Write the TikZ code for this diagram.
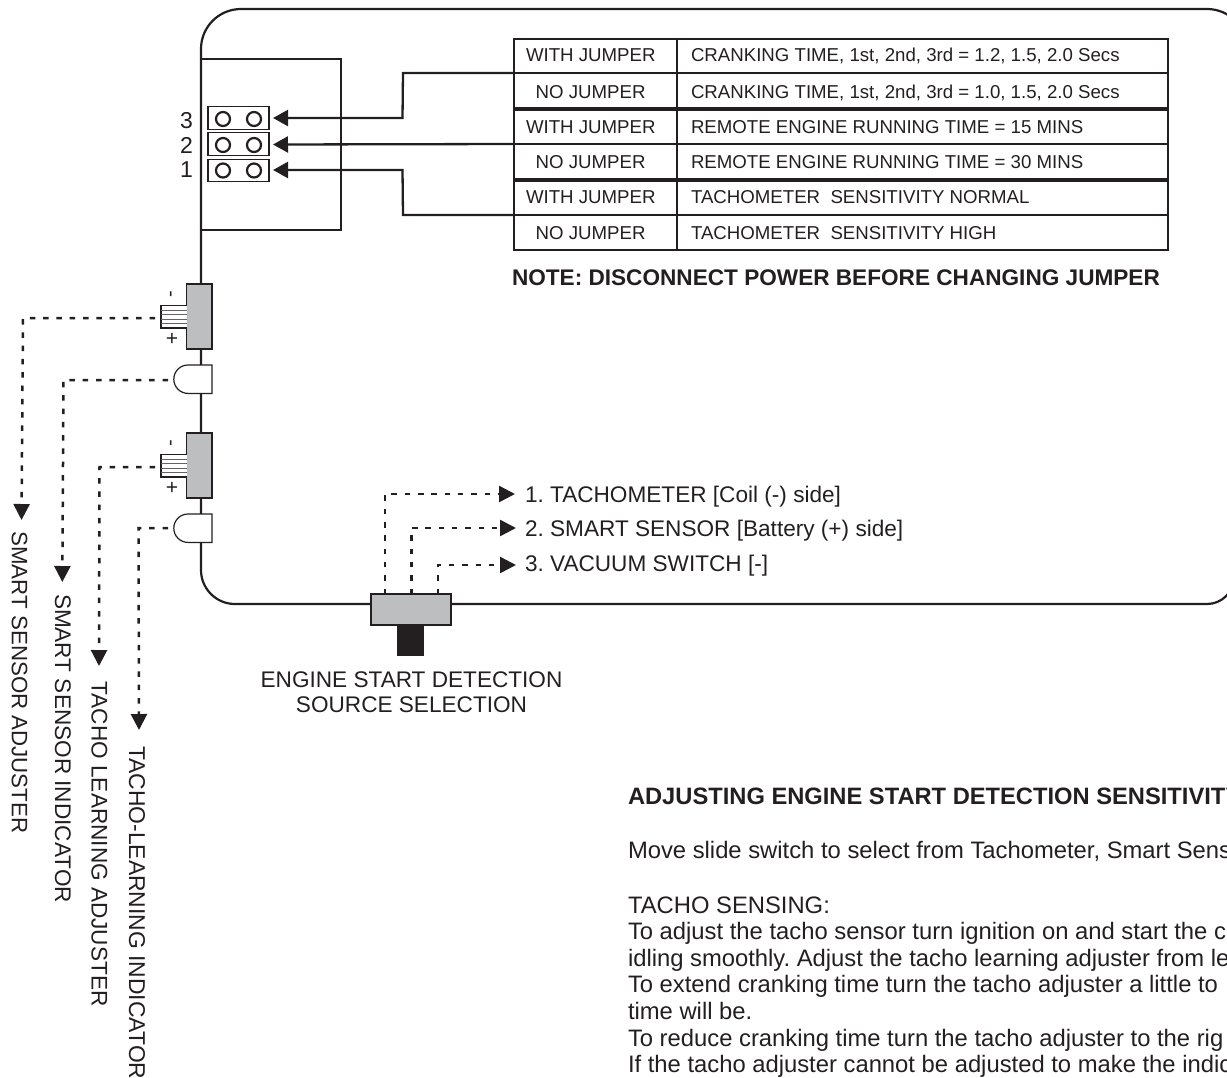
\documentclass[tikz,border=0pt]{standalone}
\usepackage{fontspec}
\setmainfont{Liberation Sans}
\definecolor{ink}{HTML}{231F20}
\definecolor{boxgray}{HTML}{BCBEC0}
\usetikzlibrary{arrows.meta}
\frenchspacing
\tikzset{
  x=1pt,y=-1pt,
  every node/.style={text=ink,inner sep=0pt,outer sep=0pt},
  shell/.style={draw=ink,line width=2.2pt},
  thin line/.style={draw=ink,line width=1.2pt},
  lead/.style={draw=ink,line width=2.3pt,-{Triangle[length=15pt,width=16pt]}},
  dotted lead/.style={draw=ink,line width=2.5pt,dash pattern=on 5.5pt off 7.8pt,-{Triangle[length=16pt,width=16pt]}},
  lbl/.style={font=\fontsize{22.6}{25}\selectfont,anchor=base west},
  tbl/.style={font=\fontsize{18.65}{20}\selectfont,anchor=base west},
  vert/.style={font=\fontsize{22.6}{24}\selectfont,rotate=-90,anchor=base west},
  body/.style={font=\fontsize{23.8}{26}\selectfont,anchor=base west},
  gray box/.style={draw=ink,line width=1.2pt,fill=boxgray},
  pinbox/.style={draw=ink,line width=1.3pt,fill=white,minimum width=61pt,minimum height=22.5pt},
  pin/.style={draw=ink,line width=2.2pt,fill=white,circle,minimum size=14pt},
  rule/.style={line width=2.4pt,draw=ink},
  thick rule/.style={line width=4.2pt,draw=ink},
}
\begin{document}
\begin{tikzpicture}
\useasboundingbox (0,0) rectangle (1227,1077);
\clip (0,0) rectangle (1227,1077);
% outer shell
\draw[shell] (1247,49) arc[start angle=0,end angle=-90,radius=40] -- (241,9) arc[start angle=270,end angle=180,radius=40] -- (201,570) arc[start angle=180,end angle=90,radius=34] -- (1207,604) arc[start angle=90,end angle=0,radius=27];
% jumper block
\draw[thin line] (201,59) -- (341,59) -- (341,230) -- (201,230);
\node[pinbox] (j3) at (238.5,118) {};
\node[pinbox] (j2) at (238.5,144) {};
\node[pinbox] (j1) at (238.5,170.5) {};
\foreach \n/\y/\b in {3/119/128.5,2/145/153,1/170.5/177.5}{
  \node[pin] (p\n a) at (223,\y) {};
  \node[pin] (p\n b) at (254,\y) {};
  \node[font=\fontsize{23}{25}\selectfont,anchor=base east] (num\n) at (193,\b) {\n};
}
% table
\draw[rule] (514,39) rectangle (1168,250);
\draw[rule] (677,39) -- (677,250);
\draw[rule] (514,73) -- (1168,73);
\draw[thick rule] (514,109) -- (1168,109);
\draw[rule] (514,144) -- (1168,144);
\draw[thick rule] (514,180) -- (1168,180);
\draw[rule] (514,215) -- (1168,215);
\foreach \y/\x/\a/\b in {
  61.7/526/WITH JUMPER/{CRANKING TIME, 1st, 2nd, 3rd = 1.2, 1.5, 2.0 Secs},
  98/535.7/NO JUMPER/{CRANKING TIME, 1st, 2nd, 3rd = 1.0, 1.5, 2.0 Secs},
  133/526/WITH JUMPER/{REMOTE ENGINE RUNNING TIME = 15 MINS},
  168.7/535.7/NO JUMPER/{REMOTE ENGINE RUNNING TIME = 30 MINS},
  203.7/526/WITH JUMPER/{TACHOMETER\ \ SENSITIVITY NORMAL},
  239.3/535.7/NO JUMPER/{TACHOMETER\ \ SENSITIVITY HIGH}}{
  \node[tbl] at (\x,\y) {\a};
  \node[tbl] at (691,\y) {\b};
}
\node[font=\bfseries\fontsize{22.6}{25}\selectfont,anchor=base west] (note) at (512,285) {NOTE: DISCONNECT POWER BEFORE CHANGING JUMPER};
% jumper leads
\coordinate (t1) at (514,73);
\coordinate (t2) at (514,144);
\coordinate (t3) at (514,215);
\coordinate (e3) at (273,118);
\coordinate (e2) at (273,144.5);
\coordinate (e1) at (273,170);
\draw[lead] (t1) -- (403,73) -- (402.5,118) -- (e3);
\draw[lead] (t2) -- (e2);
\draw[lead] (t3) -- (403,215) -- (402.5,170) -- (e1);
% adjusters
\foreach \t/\nm in {284/a,433/b}{
  \draw[gray box] (186.5,\t) rectangle (212,\t+65);
  \draw[line width=1.2pt,draw=ink,fill=white] (186.5,\t+21.5) -- (161,\t+21.5) -- (161,\t+44) -- (186.5,\t+44);
  \foreach \d in {26,30.5,35,39.5} \draw[line width=0.8pt,draw=ink!70] (161,\t+\d) -- (186.5,\t+\d);
  \node[font=\fontsize{20}{22}\selectfont,rotate=90] (minus\nm) at (173,\t+10) {-};
  \node[font=\fontsize{21}{22}\selectfont] (plus\nm) at (172,\t+55.5) {+};
}
% LEDs
\foreach \t in {365,514}{
  \draw[line width=1.2pt,draw=ink,fill=white] (212,\t) -- (188,\t) arc[start angle=270,end angle=90,radius=14.2] -- (212,\t+28.4) -- cycle;
}
% dotted leads left
\coordinate (sa) at (155,318);
\coordinate (si) at (168,380);
\coordinate (ta) at (155,467);
\coordinate (ti) at (168,528);
\node[vert,font=\fontsize{22.3}{24}\selectfont] (lsa) at (12,531.5) {SMART SENSOR ADJUSTER};
\node[vert] (lsi) at (55,594) {SMART SENSOR INDICATOR};
\node[vert] (lta) at (91.7,681.7) {TACHO LEARNING ADJUSTER};
\node[vert,font=\fontsize{22.9}{24}\selectfont] (lti) at (129,746) {TACHO-LEARNING INDICATOR};
\coordinate (asa) at (21.5,520);
\coordinate (asi) at (62.3,582);
\coordinate (ata) at (99,666);
\coordinate (ati) at (139,730);
\draw[dotted lead] (sa) -- (23,318) -- (asa);
\draw[dotted lead] (si) -- (63.5,380) -- (asi);
\draw[dotted lead] (ta) -- (99.5,467) -- (ata);
\draw[dotted lead] (ti) -- (138.5,528) -- (ati);
% slide switch
\draw[gray box] (371,594) rectangle (451,625);
\fill[ink] (397,625) rectangle (424,656);
\node[lbl] (l1) at (525,502.5) {1. TACHOMETER [Coil (-) side]};
\node[lbl] (l2) at (525,536) {2. SMART SENSOR [Battery (+) side]};
\node[lbl] (l3) at (525,571) {3. VACUUM SWITCH [-]};
\coordinate (s1) at (385,594);
\coordinate (s2) at (411.5,594);
\coordinate (s3) at (438,594);
\coordinate (a1) at (515,494);
\coordinate (a2) at (516,528);
\coordinate (a3) at (516,565);
\draw[dotted lead] (s1) -- (385,494) -- (a1);
\draw[dotted lead] (s2) -- (411.5,528) -- (a2);
\draw[dotted lead] (s3) -- (438,565) -- (a3);
\node[font=\fontsize{22.6}{25}\selectfont,align=center] (sw) at (411.5,692.5) {ENGINE START DETECTION\\SOURCE SELECTION};
% text
\node[font=\bfseries\fontsize{23.7}{26}\selectfont,anchor=base west] at (628,804) {ADJUSTING ENGINE START DETECTION SENSITIVITY};
\node[body] at (628,858) {Move slide switch to select from Tachometer, Smart Sensor};
\node[body] at (628,913) {TACHO SENSING:};
\node[body] at (628,939.5) {To adjust the tacho sensor turn ignition on and start the c};
\node[body] at (628,966) {idling smoothly. Adjust the tacho learning adjuster from le};
\node[body] at (628,992.5) {To extend cranking time turn the tacho adjuster a little to};
\node[body] at (628,1019) {time will be.};
\node[body] at (628,1046) {To reduce cranking time turn the tacho adjuster to the rig};
\node[body] at (628,1072.5) {If the tacho adjuster cannot be adjusted to make the indic};
\end{tikzpicture}
\end{document}
